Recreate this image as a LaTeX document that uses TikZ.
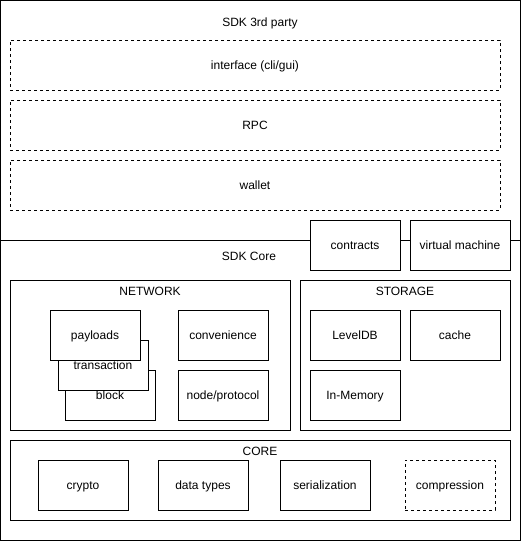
\documentclass[tikz,border=0pt]{standalone}
\usepackage{fontspec}
\setmainfont{Liberation Sans}
\begin{document}
\begin{tikzpicture}[x=1pt,y=-1pt,
  every node/.style={font=\fontsize{12}{14}\selectfont, text height=10pt, text depth=1pt},
  box/.style={draw, line width=1pt, fill=white, minimum width=90pt, minimum height=50pt, inner sep=0pt},
  dbox/.style={box, dash pattern=on 3pt off 3pt},
  wide/.style={draw, line width=1pt, dash pattern=on 3pt off 3pt, minimum width=490pt, minimum height=50pt, inner sep=0pt},
  container/.style={draw, line width=1pt, inner sep=0pt},
  lbl/.style={inner sep=0pt}]
\useasboundingbox (0,0) rectangle (521,541);
\node[container, minimum width=520pt, minimum height=540pt] (frame) at (260.5,270.5) {};
\node[lbl] (third) at (260,22) {SDK 3rd party};
\node[wide] (iface) at (255,65) {interface (cli/gui)};
\node[wide] (rpc) at (255,125) {RPC};
\node[wide] (wallet) at (255,185) {wallet};
\coordinate (sepL) at (0.5,240);
\coordinate (sepR) at (520.5,240);
\draw[line width=1pt] (sepL) -- (sepR);
\node[box] (contracts) at (355,245) {contracts};
\node[box, minimum width=100pt] (vm) at (460,245) {virtual machine};
\node[lbl] (sdkcore) at (249,256) {SDK Core};
% network
\node[container, minimum width=280pt, minimum height=150pt] (network) at (150,355) {};
\node[lbl] (netlbl) at (150,291) {NETWORK};
\node[box] (block) at (110,395) {block};
\node[box] (transaction) at (103,365) {transaction};
\node[box] (payloads) at (95,335) {payloads};
\node[box] (convenience) at (223,335) {convenience};
\node[box] (nodeproto) at (223,395) {node/protocol};
% storage
\node[container, minimum width=210pt, minimum height=150pt] (storage) at (405,355) {};
\node[lbl] (stlbl) at (405,291) {STORAGE};
\node[box] (leveldb) at (355,335) {LevelDB};
\node[box] (cache) at (455,335) {cache};
\node[box] (inmem) at (355,395) {In-Memory};
% core
\node[container, minimum width=500pt, minimum height=80pt] (core) at (260,480) {};
\node[lbl] (corelbl) at (260,451) {CORE};
\node[box] (crypto) at (83,485) {crypto};
\node[box] (datatypes) at (203,485) {data types};
\node[box] (serial) at (325,485) {serialization};
\node[dbox] (compression) at (450,485) {compression};
\end{tikzpicture}
\end{document}
